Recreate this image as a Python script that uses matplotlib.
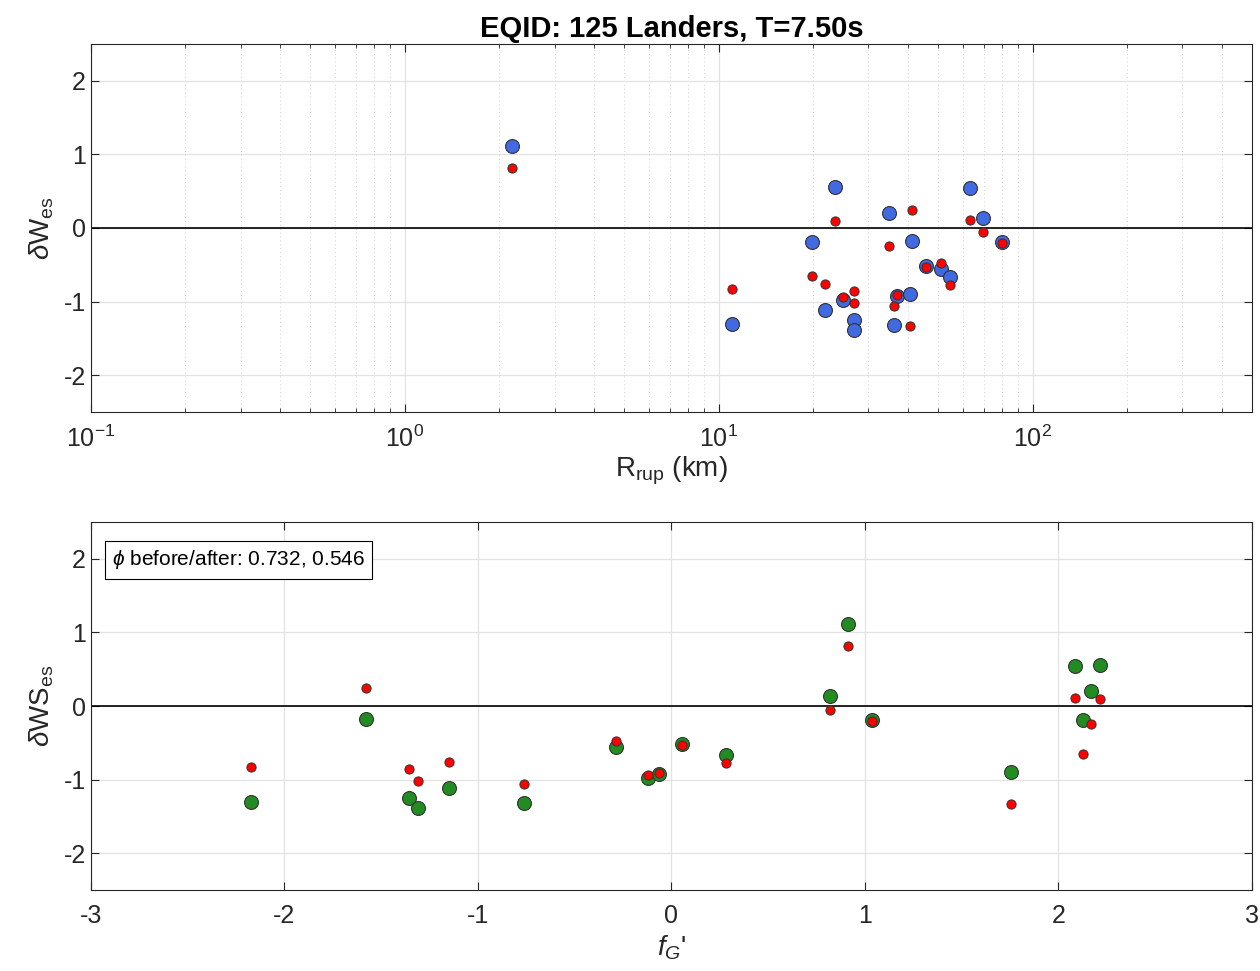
import numpy as np
import matplotlib.pyplot as plt
from matplotlib.ticker import LogLocator, NullFormatter

plt.rcParams["font.family"] = ["Liberation Sans", "DejaVu Sans"]
plt.rcParams["mathtext.fontset"] = "custom"
plt.rcParams["mathtext.rm"] = "Liberation Sans"
plt.rcParams["mathtext.it"] = "Liberation Sans:italic"
plt.rcParams["axes.unicode_minus"] = False

# per-station values, event 125 Landers, T = 7.50 s
rrup_km = [11.0, 41.4, 26.9, 26.9, 21.8, 36.3, 50.9, 24.9, 37.0, 45.6,
           54.5, 69.4, 2.20, 80.0, 40.8, 63.1, 23.5, 35.0, 19.8]
fg_prime = [-2.175, -1.577, -1.358, -1.308, -1.151, -0.762, -0.287, -0.120,
            -0.064, 0.054, 0.282, 0.817, 0.912, 1.038, 1.756, 2.087, 2.214,
            2.168, 2.127]
dw_after = [-1.30, -0.17, -1.25, -1.39, -1.11, -1.32, -0.56, -0.98, -0.93,
            -0.51, -0.67, 0.13, 1.12, -0.19, -0.90, 0.55, 0.56, 0.21, -0.19]
dw_before = [-0.83, 0.25, -0.86, -1.02, -0.76, -1.06, -0.47, -0.94, -0.91,
             -0.53, -0.77, -0.06, 0.81, -0.20, -1.33, 0.11, 0.10, -0.25, -0.65]
phi_before = 0.732
phi_after = 0.546

EDGE = "#333333"
AX_COLOR = "#262626"


def style_axes(ax):
    ax.tick_params(direction="in", which="both", top=True, right=True,
                   labelsize=18, colors=AX_COLOR, length=6)
    ax.tick_params(axis="x", which="major", pad=10)
    ax.tick_params(which="minor", length=3)
    for s in ax.spines.values():
        s.set_color(AX_COLOR)
        s.set_linewidth(0.8)
    ax.set_axisbelow(True)
    ax.set_ylim(-2.5, 2.5)
    ax.set_yticks([-2, -1, 0, 1, 2])
    ax.axhline(0, color="black", lw=1.2, zorder=1)


fig = plt.figure(figsize=(12.6, 9.71), dpi=100)
ax1 = fig.add_axes([0.0722, 0.5757, 0.9214, 0.379])
ax2 = fig.add_axes([0.0722, 0.0834, 0.9214, 0.379])

# top: event terms against rupture distance
style_axes(ax1)
ax1.set_xscale("log")
ax1.set_xlim(0.1, 500)
ax1.xaxis.set_minor_locator(LogLocator(base=10, subs=np.arange(2, 10), numticks=20))
ax1.xaxis.set_minor_formatter(NullFormatter())
ax1.grid(True, which="major", color="#e3e3e3", lw=0.9)
ax1.grid(True, which="minor", axis="x", color="#cfcfcf", lw=0.7, ls=(0, (1, 3)))
ax1.scatter(rrup_km, dw_after, s=100, c="#4169e1", edgecolors=EDGE,
            linewidths=0.8, zorder=3)
ax1.scatter(rrup_km, dw_before, s=44, c="#ff0000", edgecolors=EDGE,
            linewidths=0.7, zorder=4)
ax1.set_xlabel(r"R$_{\rm rup}$ (km)", fontsize=20, color=AX_COLOR, labelpad=2)
ax1.set_ylabel(r"$\delta$W$_{\rm es}$", fontsize=20, color=AX_COLOR, labelpad=6)
ax1.set_title("EQID: 125 Landers, T=7.50s", fontsize=21, fontweight="bold", pad=5)

# bottom: same terms against f_G'
style_axes(ax2)
ax2.set_xlim(-3, 3)
ax2.set_xticks([-3, -2, -1, 0, 1, 2, 3])
ax2.grid(True, which="major", color="#e3e3e3", lw=0.9)
ax2.scatter(fg_prime, dw_after, s=100, c="#228b22", edgecolors=EDGE,
            linewidths=0.8, zorder=3)
ax2.scatter(fg_prime, dw_before, s=44, c="#ff0000", edgecolors=EDGE,
            linewidths=0.7, zorder=4)
ax2.set_xlabel(r"$f_G$'", fontsize=20, color=AX_COLOR, labelpad=4)
ax2.set_ylabel(r"$\delta$WS$_{\rm es}$", fontsize=20, color=AX_COLOR, labelpad=6)
ax2.text(0.018, 0.897, r"$\phi$ before/after: %.3f, %.3f" % (phi_before, phi_after),
         transform=ax2.transAxes, fontsize=15, va="center", ha="left",
         bbox=dict(boxstyle="square,pad=0.35", fc="white", ec="black", lw=0.8),
         zorder=5)

fig.savefig("out.png", dpi=100)
